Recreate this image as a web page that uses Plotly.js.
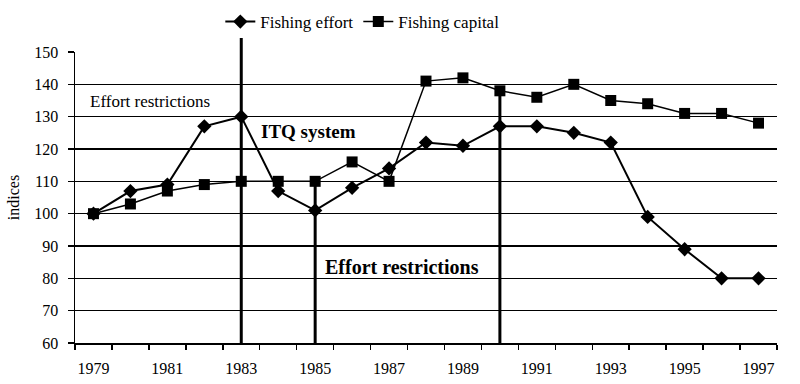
<!DOCTYPE html>
<html>
<head>
<meta charset="utf-8">
<script src="https://cdn.plot.ly/plotly-3.0.1.min.js"></script>
<style>html,body{margin:0;padding:0;background:#fff;}#chart{width:800px;height:384px;}</style>
</head>
<body>
<div id="chart"></div>
<script>
var years = [1979,1980,1981,1982,1983,1984,1985,1986,1987,1988,1989,1990,1991,1992,1993,1994,1995,1996,1997];
var fishingEffort = [100,107,109,127,130,107,101,108,114,122,121,127,127,125,122,99,89,80,80];
var fishingCapital = [100,103,107,109,110,110,110,116,110,141,142,138,136,140,135,134,131,131,128];
var labelYears = [1979,1981,1983,1985,1987,1989,1991,1993,1995,1997];
var yTicks = [60,70,80,90,100,110,120,130,140,150];
var markerYears = [1983,1985,1990];

var font = "Liberation Serif, Times New Roman, serif";
var boundaries = [];
for (var i = 0; i <= years.length; i++) boundaries.push(years[0] - 0.5 + i);
var xr = [years[0]-0.5, years[years.length-1]+0.5];

var traces = [
  {x: years, y: fishingEffort, name: 'Fishing effort', type: 'scatter', mode: 'lines+markers',
   line: {color: '#000', width: 2}, marker: {symbol: 'diamond', size: 11, color: '#000'}, cliponaxis: false},
  {x: years, y: fishingCapital, name: 'Fishing capital', type: 'scatter', mode: 'lines+markers',
   line: {color: '#000', width: 1.5}, marker: {symbol: 'square', size: 11, color: '#000'}, cliponaxis: false}
];
traces.push({x: [years[0]], y: [fishingEffort[0]], xaxis: 'x2', type: 'scatter', mode: 'markers',
             marker: {opacity: 0}, showlegend: false, hoverinfo: 'skip'});

var shapes = [
  {type: 'line', xref: 'x', yref: 'paper', x0: markerYears[0], x1: markerYears[0], y0: 0, y1: 1.048, line: {color: '#000', width: 3}},
  {type: 'line', xref: 'x', yref: 'y', x0: markerYears[1], x1: markerYears[1], y0: 60, y1: fishingCapital[years.indexOf(markerYears[1])], line: {color: '#000', width: 3}},
  {type: 'line', xref: 'x', yref: 'y', x0: markerYears[2], x1: markerYears[2], y0: 60, y1: fishingCapital[years.indexOf(markerYears[2])], line: {color: '#000', width: 3}}
];

var layout = {
  width: 800, height: 384,
  margin: {l: 75, r: 23, t: 52, b: 41, autoexpand: false},
  paper_bgcolor: '#fff', plot_bgcolor: '#fff',
  font: {family: font, color: '#000', size: 16},
  showlegend: true,
  legend: {orientation: 'h', x: 0.207, y: 1.165, xanchor: 'left', yanchor: 'top',
           font: {family: font, size: 17, color: '#000'}, bgcolor: 'rgba(0,0,0,0)', itemwidth: 30, tracegroupgap: 0},
  xaxis: {range: xr, tickmode: 'array', tickvals: boundaries,
          ticktext: boundaries.map(function(){return '';}), ticks: 'outside', ticklen: 5, tickwidth: 1.5, tickcolor: '#000',
          showgrid: false, zeroline: false, showline: true, linecolor: '#000', linewidth: 1.5, automargin: false},
  xaxis2: {overlaying: 'x', matches: 'x', side: 'bottom', anchor: 'y', range: xr,
           tickmode: 'array', tickvals: labelYears, ticktext: labelYears.map(String),
           ticks: 'outside', ticklen: 11, tickcolor: 'rgba(0,0,0,0)', showgrid: false, zeroline: false, showline: false,
           tickfont: {family: font, size: 16, color: '#000'}, automargin: false},
  yaxis: {range: [60, 150], tickmode: 'array', tickvals: yTicks, ticks: 'outside', ticklen: 6, tickwidth: 1.5, tickcolor: '#000',
          showgrid: true, gridcolor: '#000', gridwidth: 1.5, zeroline: false, showline: true, linecolor: '#000', linewidth: 1.5,
          tickfont: {family: font, size: 16, color: '#000'}, ticklabelstandoff: 6, automargin: false,
          title: {text: 'indices', font: {family: font, size: 16, color: '#000'}, standoff: 10}},
  shapes: shapes,
  annotations: [
    {xref: 'paper', yref: 'paper', x: 0.019, y: 0.83, text: 'Effort restrictions', showarrow: false, xanchor: 'left', yanchor: 'middle',
     font: {family: font, size: 17, color: '#000'}},
    {xref: 'paper', yref: 'paper', x: 0.262, y: 0.728, text: '<b>ITQ system</b>', showarrow: false, xanchor: 'left', yanchor: 'middle',
     font: {family: font, size: 19, color: '#000'}},
    {xref: 'paper', yref: 'paper', x: 0.353, y: 0.26, text: '<b>Effort restrictions</b>', showarrow: false, xanchor: 'left', yanchor: 'middle',
     font: {family: font, size: 20, color: '#000'}}
  ]
};

Plotly.newPlot('chart', traces, layout, {displayModeBar: false, staticPlot: true});
</script>
</body>
</html>
